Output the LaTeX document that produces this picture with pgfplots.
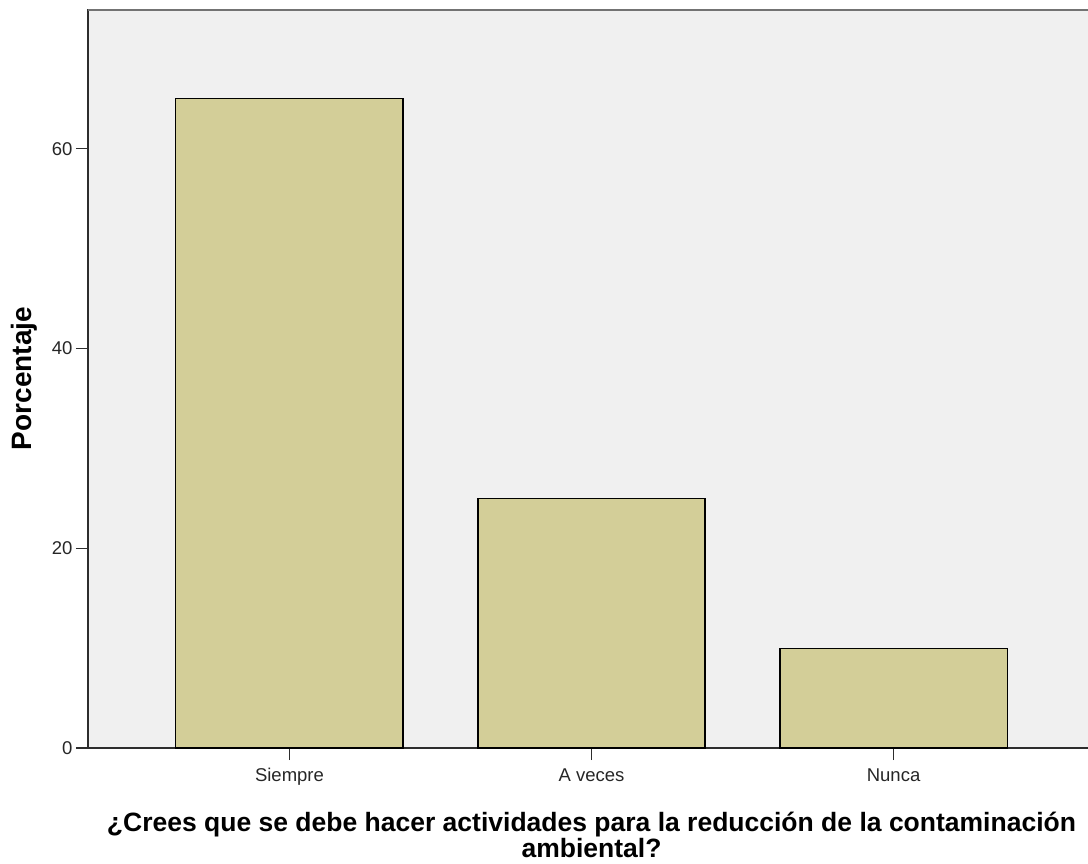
\documentclass[border=0pt]{standalone}
\usepackage{pgfplots}
\pgfplotsset{compat=1.18}
\usepackage{fontspec}
\setmainfont{Liberation Sans}
\definecolor{barfill}{RGB}{211,206,152}
\definecolor{bgcol}{RGB}{240,240,240}
\definecolor{axcol}{RGB}{45,45,45}
\begin{document}
\begin{tikzpicture}
\clip (-88pt,-115pt) rectangle (1000pt,748pt);
\begin{axis}[
  scale only axis,
  width=1007pt, height=739pt,
  xmin=-0.667, xmax=2.667,
  ymin=0, ymax=74,
  axis x line=bottom, axis y line=left,
  axis line style={axcol, line width=1.3pt, -},
  axis background/.style={fill=bgcol},
  xtick={0,1,2},
  xticklabels={Siempre, A veces, Nunca},
  ytick={0,20,40,60},
  tick align=outside,
  major tick length=12pt,
  tick style={axcol, line width=1.3pt},
  /pgf/number format/assume math mode=true,
  tick label style={font=\fontsize{18.5}{20}\selectfont, text=black!85},
  xticklabel style={yshift=-5pt},
  xlabel={¿Crees que se debe hacer actividades para la reducción de la contaminación\\ambiental?},
  xlabel style={align=center, font=\fontsize{26.5}{26}\selectfont\bfseries,
    at={(axis description cs:0.5,0)}, anchor=north, yshift=-64pt, inner sep=0pt},
  ylabel={Porcentaje},
  ylabel style={font=\fontsize{28}{30}\selectfont\bfseries,
    at={(axis description cs:-0.0635,0.5)}, anchor=center, rotate=0},
]
\addplot[ybar, bar width=0.752, fill=barfill, draw=black, line width=1.2pt]
  coordinates {(0,65) (1,25) (2,10)};
\draw[black!55, line width=3pt] (rel axis cs:0,1) -- (rel axis cs:1,1);
\end{axis}
\end{tikzpicture}
\end{document}
